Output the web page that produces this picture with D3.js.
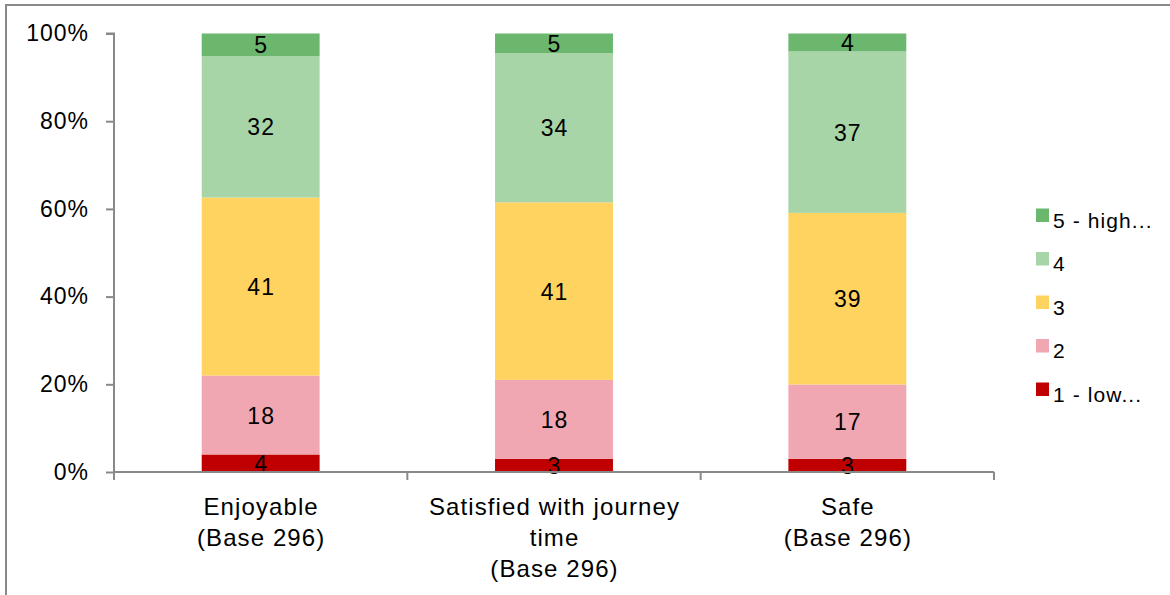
<!DOCTYPE html>
<html><head><meta charset="utf-8">
<script src="https://cdn.jsdelivr.net/npm/d3@7"></script>
<style>
body{margin:0;background:#fff;}
svg{display:block;font-family:"Liberation Sans",Arial,sans-serif;}
</style></head><body>
<svg id="c" width="1170" height="595"></svg>
<script>
const categories = [["Enjoyable","(Base 296)"],["Satisfied with journey","time","(Base 296)"],["Safe","(Base 296)"]];
const seriesNames = ["1 - low...","2","3","4","5 - high..."];
const s1 = [4, 3, 3];
const s2 = [18, 18, 17];
const s3 = [40.6, 40.5, 39.2];
const s4 = [32.2, 34, 36.9];
const s5 = [5.2, 4.5, 4.1];
const colors = ["#c00000","#f0a7b1","#ffd35f","#a7d5a7","#6bb76d"];
const yTicks = [0,20,40,60,80,100];

const svg = d3.select("#c");
svg.append("rect").attr("x",6).attr("y",5).attr("width",1180).attr("height",600)
  .attr("fill","none").attr("stroke","#898989").attr("stroke-width",2);

const pL=114, pR=994, pT=33.5, pB=472;
const x = d3.scaleBand().domain(d3.range(categories.length)).range([pL,pR]).paddingInner(0.598).paddingOuter(0.299);
const y = d3.scaleLinear().domain([0,100]).range([pB,pT]);

const seriesVals=[s1,s2,s3,s4,s5];
const rows = categories.map((c,i)=>{const o={i}; seriesVals.forEach((s,k)=>o["s"+k]=s[i]); return o;});
const keys = seriesVals.map((s,k)=>"s"+k);
const stack = d3.stack().keys(keys).offset(d3.stackOffsetExpand)(rows);

const g = svg.append("g");
stack.forEach((layer,k)=>{
  g.selectAll(null).data(layer).enter().append("rect")
    .attr("x",d=>x(d.data.i)).attr("width",x.bandwidth())
    .attr("y",d=>y(d[1]*100)).attr("height",d=>y(d[0]*100)-y(d[1]*100))
    .attr("fill",colors[k]);
});
stack.forEach((layer,k)=>{
  g.selectAll(null).data(layer).enter().append("text")
    .attr("x",d=>x(d.data.i)+x.bandwidth()/2+0.5)
    .attr("y",d=>y((d[0]+d[1])/2*100))
    .attr("dy","0.37em").attr("text-anchor","middle")
    .attr("font-size",23).attr("letter-spacing",1).attr("fill","#000")
    .text(d=>Math.round(d.data["s"+k]));
});

const yAxis = d3.axisLeft(y).tickValues(yTicks).tickFormat(d=>d+"%").tickSize(8).tickPadding(17);
const ya = svg.append("g").attr("transform",`translate(${pL},0)`).call(yAxis);
ya.selectAll("path,line").attr("stroke","#898989").attr("stroke-width",2);
ya.select(".domain").attr("d",`M-8,${pT}H0V${pB+8}`);
ya.selectAll("text").attr("font-size",23).attr("letter-spacing",1).attr("fill","#000").attr("font-family","Liberation Sans, Arial, sans-serif");

const xa = svg.append("g");
xa.append("line").attr("x1",pL).attr("x2",pR).attr("y1",pB).attr("y2",pB).attr("stroke","#898989").attr("stroke-width",2);
const bounds = d3.range(categories.length+1).map(i=> i<categories.length ? x(i)-x.step()*x.paddingOuter() : pR);
bounds.forEach(b=>{
  xa.append("line").attr("x1",b).attr("x2",b).attr("y1",pB).attr("y2",pB+8).attr("stroke","#898989").attr("stroke-width",2);
});
categories.forEach((lines,i)=>{
  const cx = x(i)+x.bandwidth()/2+0.5;
  const t = xa.append("text").attr("x",cx).attr("y",515).attr("text-anchor","middle").attr("font-size",24).attr("letter-spacing",1.1).attr("fill","#000");
  lines.forEach((l,j)=>t.append("tspan").attr("x",cx).attr("dy",j?31:0).text(l));
});

const leg = svg.append("g").attr("transform","translate(1036,0)");
const legOrder = [4,3,2,1,0];
legOrder.forEach((k,r)=>{
  const ty = 208.5 + r*43.5;
  leg.append("rect").attr("x",0).attr("y",ty).attr("width",13).attr("height",13.5).attr("fill",colors[k]);
  leg.append("text").attr("x",17).attr("y",ty+19).attr("font-size",21).attr("letter-spacing",1.1).attr("fill","#000").text(seriesNames[k]);
});
</script></body></html>
